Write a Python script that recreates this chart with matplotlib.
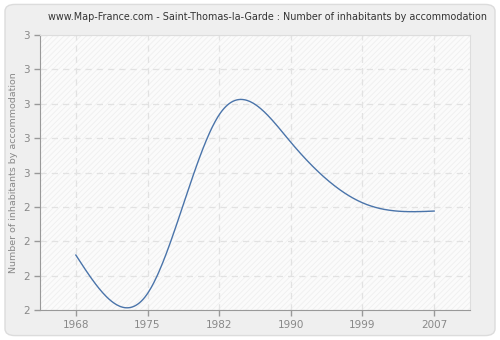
import numpy as np
import matplotlib
matplotlib.use("Agg")
import matplotlib.pyplot as plt
from matplotlib.patches import FancyBboxPatch

years = ["1968", "1975", "1982", "1990", "1999", "2007"]
values = [2.20, 2.06, 2.71, 2.61, 2.39, 2.36]
ytick_vals = [2.0, 2.125, 2.25, 2.375, 2.5, 2.625, 2.75, 2.875, 3.0]
ytick_labels = ["2", "2", "2", "2", "3", "3", "3", "3", "3"]
title = "www.Map-France.com - Saint-Thomas-la-Garde : Number of inhabitants by accommodation"
ylabel = "Number of inhabitants by accommodation"


def natural_spline(x, y, xs):
    x = np.asarray(x, float); y = np.asarray(y, float)
    n = len(x)
    h = np.diff(x)
    A = np.zeros((n, n)); b = np.zeros(n)
    A[0, 0] = 1; A[-1, -1] = 1
    for i in range(1, n - 1):
        A[i, i - 1] = h[i - 1]
        A[i, i] = 2 * (h[i - 1] + h[i])
        A[i, i + 1] = h[i]
        b[i] = 3 * ((y[i + 1] - y[i]) / h[i] - (y[i] - y[i - 1]) / h[i - 1])
    c = np.linalg.solve(A, b)
    out = np.empty_like(xs)
    for k, xv in enumerate(xs):
        i = min(max(np.searchsorted(x, xv) - 1, 0), n - 2)
        dx = xv - x[i]
        bb = (y[i + 1] - y[i]) / h[i] - h[i] * (2 * c[i] + c[i + 1]) / 3
        d = (c[i + 1] - c[i]) / (3 * h[i])
        out[k] = y[i] + bb * dx + c[i] * dx ** 2 + d * dx ** 3
    return out


plt.rcParams['hatch.linewidth'] = 0.6
fig = plt.figure(figsize=(5, 3.4), dpi=100)
fig.patch.set_facecolor("white")
bg = FancyBboxPatch((0.01, 0.013), 0.98, 0.974, boxstyle="round,pad=0,rounding_size=0.02",
                    transform=fig.transFigure, facecolor="#efefef", edgecolor="#dcdcdc",
                    linewidth=1, zorder=-10)
fig.patches.append(bg)

ax = fig.add_axes([0.08, 0.088, 0.86, 0.809])
ax.set_facecolor("#fbfbfb")
idx = np.arange(len(years))
ax.add_patch(plt.Rectangle((0, 0), 1, 1, transform=ax.transAxes, facecolor="none",
                           edgecolor="#efefef", hatch="//////", linewidth=0, zorder=0))
xs = np.linspace(0, len(years) - 1, 400)
ax.plot(xs, natural_spline(idx, values, xs), color="#4a74aa", linewidth=1.0, zorder=3)

ax.set_xlim(-0.5, len(years) - 0.5)
ax.set_ylim(2.0, 3.0)
ax.set_xticks(idx)
ax.set_xticklabels(years)
ax.set_yticks(ytick_vals)
ax.set_yticklabels(ytick_labels)
ax.grid(True, color="#e2e2e2", linestyle=(0, (5, 4)), linewidth=0.9, zorder=1)
ax.tick_params(axis="both", colors="#999999", labelcolor="#888888", labelsize=7.5,
               length=4, width=1)
for s in ["left", "bottom"]:
    ax.spines[s].set_color("#999999")
for s in ["top", "right"]:
    ax.spines[s].set_color("#dddddd")
ax.set_ylabel(ylabel, color="#888888", fontsize=6.8)
ax.yaxis.set_label_coords(-0.051, 0.5)
fig.text(0.535, 0.95, title, ha="center", va="center", fontsize=6.9, color="#333333")
fig.savefig("out.png", dpi=100)
